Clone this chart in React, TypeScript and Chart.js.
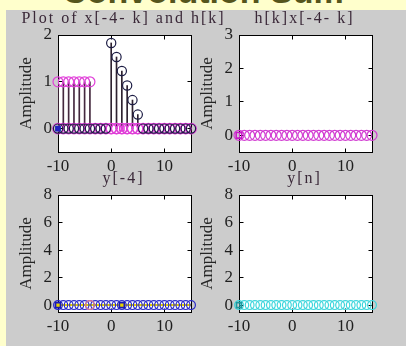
import React, { useEffect, useRef } from "react";
import { Chart, registerables } from "chart.js";

Chart.register(...registerables);

// ---------------- data ----------------
const nValues = [-10, -9, -8, -7, -6, -5, -4, -3, -2, -1, 0, 1, 2, 3, 4, 5, 6, 7, 8, 9, 10, 11, 12, 13, 14, 15];
const hValues = [0, 0, 0, 0, 0, 0, 0, 0, 0, 0, 1.83, 1.53, 1.23, 0.92, 0.61, 0.3, 0, 0, 0, 0, 0, 0, 0, 0, 0, 0];
const xFlippedValues = [1, 1, 1, 1, 1, 1, 1, 0, 0, 0, 0, 0, 0, 0, 0, 0, 0, 0, 0, 0, 0, 0, 0, 0, 0, 0];
const productValues = [0, 0, 0, 0, 0, 0, 0, 0, 0, 0, 0, 0, 0, 0, 0, 0, 0, 0, 0, 0, 0, 0, 0, 0, 0, 0];
const ySoFarValues = [0, 0, 0, 0, 0, 0, 0, 0, 0, 0, 0, 0, 0, 0, 0, 0, 0, 0, 0, 0, 0, 0, 0, 0, 0, 0];
const yFinalValues = [0, 0, 0, 0, 0, 0, 0, 0, 0, 0, 0, 0, 0, 0, 0, 0, 0, 0, 0, 0, 0, 0, 0, 0, 0, 0];
const currentN = [-4];
const currentYValues = [0];
const startMarkerN = [-10];
const startMarkerValues = [0];
const cursorN = [2];
const cursorValues = [0];

const xTickValues = [-10, 0, 10];
const yTicksTopLeft = [0, 1, 2];
const yTicksTopRight = [0, 1, 2, 3];
const yTicksBottom = [0, 2, 4, 6, 8];

const titleTopLeft = "Plot of x[-4- k] and h[k]";
const titleTopRight = "h[k]x[-4- k]";
const titleBottomLeft = "y[-4]";
const titleBottomRight = "y[n]";
const yAxisLabel = "Amplitude";
const slideTitle = "Convolution Sum";

// ---------------- layout ----------------
const W = 406;
const H = 346;
const Y_AXIS_W = 42;
const X_AXIS_H = 30;
const SERIF = '"Liberation Serif", "Times New Roman", serif';

const pts = (xs: number[], ys: number[]) => xs.map((x, i) => ({ x, y: ys[i] }));

const stems = (xs: number[], ys: number[], color: string) => ({
  type: "bar",
  data: pts(xs, ys),
  backgroundColor: color,
  borderWidth: 0,
  barThickness: 1,
  maxBarThickness: 1,
  grouped: false,
  order: 10,
});

const circles = (xs: number[], ys: number[], color: string, r: number, order = 3) => ({
  type: "scatter",
  data: pts(xs, ys),
  pointStyle: "circle",
  pointRadius: r,
  pointBorderWidth: 1.2,
  pointBorderColor: color,
  pointBackgroundColor: "rgba(0,0,0,0)",
  borderColor: color,
  showLine: false,
  clip: false,
  order,
});

const squares = (xs: number[], ys: number[], color: string, fill: string, r: number) => ({
  type: "scatter",
  data: pts(xs, ys),
  pointStyle: "rect",
  pointRadius: r,
  pointBorderWidth: 1.6,
  pointBorderColor: color,
  pointBackgroundColor: fill,
  showLine: false,
  clip: false,
  order: 1,
});

function drawSpaced(ctx: CanvasRenderingContext2D, text: string, cx: number, y: number, spacing: number) {
  const chars = Array.from(text);
  const widths = chars.map((c) => ctx.measureText(c).width);
  const total = widths.reduce((a, b) => a + b, 0) + spacing * (chars.length - 1);
  let x = cx - total / 2;
  ctx.textAlign = "left";
  chars.forEach((c, i) => {
    ctx.fillText(c, x, y);
    x += widths[i] + spacing;
  });
}

const panelDecor = {
  id: "panelDecor",
  beforeDraw(chart: any) {
    const { ctx, chartArea: a } = chart;
    ctx.save();
    ctx.fillStyle = "#ffffff";
    ctx.fillRect(a.left, a.top, a.right - a.left, a.bottom - a.top);
    ctx.restore();
  },
  beforeDatasetsDraw(chart: any) {
    const { ctx, chartArea: a, scales } = chart;
    const L = Math.floor(a.left) + 0.5;
    const R = Math.floor(a.right) + 0.5;
    const T = Math.floor(a.top) + 0.5;
    const B = Math.floor(a.bottom) + 0.5;
    ctx.save();
    ctx.strokeStyle = "#000000";
    ctx.lineWidth = 1;
    ctx.strokeRect(L, T, R - L, B - T);
    ctx.beginPath();
    const tl = 4;
    scales.x.ticks.forEach((t: any) => {
      const px = Math.floor(scales.x.getPixelForValue(t.value)) + 0.5;
      ctx.moveTo(px, B);
      ctx.lineTo(px, B - tl);
      ctx.moveTo(px, T);
      ctx.lineTo(px, T + tl);
    });
    scales.y.ticks.forEach((t: any) => {
      const py = Math.floor(scales.y.getPixelForValue(t.value)) + 0.5;
      ctx.moveTo(L, py);
      ctx.lineTo(L + tl, py);
      ctx.moveTo(R, py);
      ctx.lineTo(R - tl, py);
    });
    ctx.stroke();
    ctx.restore();
  },
  afterDraw(chart: any, _args: any, opts: any) {
    if (!opts || !opts.text) return;
    const { ctx, chartArea: a } = chart;
    ctx.save();
    ctx.font = `16px ${SERIF}`;
    ctx.fillStyle = opts.color || "#3a2a3a";
    ctx.textBaseline = "alphabetic";
    drawSpaced(ctx, opts.text, (a.left + a.right) / 2 - 2, a.top - 12.5, 2);
    ctx.restore();
  },
};

type PanelCfg = {
  title: string;
  left: number;
  right: number;
  top: number;
  bottom: number;
  yMin: number;
  yMax: number;
  yTicks: number[];
  datasets: any[];
};

function Panel({ cfg }: { cfg: PanelCfg }) {
  const ref = useRef<HTMLCanvasElement | null>(null);
  useEffect(() => {
    if (!ref.current) return;
    const tickFont = { family: SERIF, size: 17 };
    const chart = new Chart(ref.current, {
      type: "scatter",
      data: { datasets: cfg.datasets },
      options: {
        responsive: false,
        animation: false,
        devicePixelRatio: 1,
        events: [],
        layout: {
          padding: {
            left: cfg.left - Y_AXIS_W,
            right: W - cfg.right,
            top: cfg.top,
            bottom: H - cfg.bottom - X_AXIS_H,
          },
        },
        plugins: {
          legend: { display: false },
          tooltip: { enabled: false },
          title: { display: false },
          panelDecor: { text: cfg.title, color: "#3a2838" },
        } as any,
        scales: {
          x: {
            type: "linear",
            min: -10,
            max: 15,
            offset: false,
            grid: { display: false, drawTicks: false, offset: false },
            border: { display: false },
            afterFit: (s: any) => {
              s.height = X_AXIS_H;
            },
            afterBuildTicks: (s: any) => {
              s.ticks = xTickValues.map((v) => ({ value: v }));
            },
            ticks: {
              font: tickFont,
              color: "#1e1e1e",
              padding: 4,
              maxRotation: 0,
              autoSkip: false,
            },
          },
          y: {
            type: "linear",
            min: cfg.yMin,
            max: cfg.yMax,
            grid: { display: false, drawTicks: false },
            border: { display: false },
            afterFit: (s: any) => {
              s.width = Y_AXIS_W;
            },
            afterBuildTicks: (s: any) => {
              s.ticks = cfg.yTicks.map((v) => ({ value: v }));
            },
            ticks: {
              font: tickFont,
              color: "#1e1e1e",
              padding: 6,
              autoSkip: false,
            },
            title: {
              display: true,
              text: yAxisLabel,
              font: { family: SERIF, size: 17 },
              color: "#262626",
              padding: 0,
            },
          },
        },
      } as any,
      plugins: [panelDecor],
    });
    return () => chart.destroy();
  }, [cfg]);
  return (
    <canvas
      ref={ref}
      width={W}
      height={H}
      style={{ position: "absolute", left: 0, top: 0, width: W, height: H }}
    />
  );
}

const panels: PanelCfg[] = [
  {
    title: titleTopLeft,
    left: 58,
    right: 191,
    top: 35,
    bottom: 152,
    yMin: -0.5,
    yMax: 2,
    yTicks: yTicksTopLeft,
    datasets: [
      stems(nValues, hValues, "#2e2230"),
      stems(nValues, xFlippedValues, "#44283e"),
      circles(nValues, productValues, "#e040d8", 5.3, 5),
      circles(nValues, xFlippedValues, "#e040d8", 5, 4),
      circles(nValues, hValues, "#1c1c44", 4.6, 3),
      squares(startMarkerN, startMarkerValues, "#2020c0", "#2020c0", 3),
      squares(cursorN, cursorValues, "#e040d8", "rgba(0,0,0,0)", 3),
    ],
  },
  {
    title: titleTopRight,
    left: 239,
    right: 372,
    top: 35,
    bottom: 152,
    yMin: -0.5,
    yMax: 3,
    yTicks: yTicksTopRight,
    datasets: [
      stems(nValues, productValues, "#c030c0"),
      circles(nValues, productValues, "#d23cd2", 5, 3),
      squares(startMarkerN, startMarkerValues, "#c818c8", "rgba(0,0,0,0)", 4),
    ],
  },
  {
    title: titleBottomLeft,
    left: 58,
    right: 191,
    top: 195,
    bottom: 312,
    yMin: -0.5,
    yMax: 8,
    yTicks: yTicksBottom,
    datasets: [
      {
        type: "line",
        data: pts(nValues, ySoFarValues),
        borderColor: "#e8d400",
        borderWidth: 2,
        pointRadius: 0,
        showLine: true,
        clip: false,
        order: 6,
      },
      circles(nValues, ySoFarValues, "#2a2ac8", 4.4, 3),
      circles(currentN, currentYValues, "#e07890", 4.4, 2),
      squares(startMarkerN, startMarkerValues, "#1a1ab8", "#e8d400", 3.5),
      squares(cursorN, cursorValues, "#1a1ab8", "#e8d400", 3.5),
    ],
  },
  {
    title: titleBottomRight,
    left: 239,
    right: 372,
    top: 195,
    bottom: 312,
    yMin: -0.5,
    yMax: 8,
    yTicks: yTicksBottom,
    datasets: [
      circles(nValues, yFinalValues, "#3cd6dc", 4.4, 3),
      squares(startMarkerN, startMarkerValues, "#1e9aa0", "rgba(0,0,0,0)", 3.5),
    ],
  },
];

export default function App() {
  return (
    <div
      style={{
        position: "fixed",
        left: 0,
        top: 0,
        width: W,
        height: H,
        overflow: "hidden",
        background: "#ffffcc",
      }}
    >
      <div
        style={{
          position: "absolute",
          left: 6,
          top: 10,
          right: 0,
          bottom: 0,
          background: "#cccccc",
        }}
      />
      <div
        style={{
          position: "absolute",
          left: 0,
          top: -26,
          width: W,
          textAlign: "center",
          fontFamily: '"Liberation Sans", Arial, sans-serif',
          fontWeight: 700,
          fontSize: 34,
          lineHeight: "34px",
          color: "#55551c",
          whiteSpace: "nowrap",
        }}
      >
        {slideTitle}
      </div>
      {panels.map((p, i) => (
        <Panel key={i} cfg={p} />
      ))}
    </div>
  );
}
